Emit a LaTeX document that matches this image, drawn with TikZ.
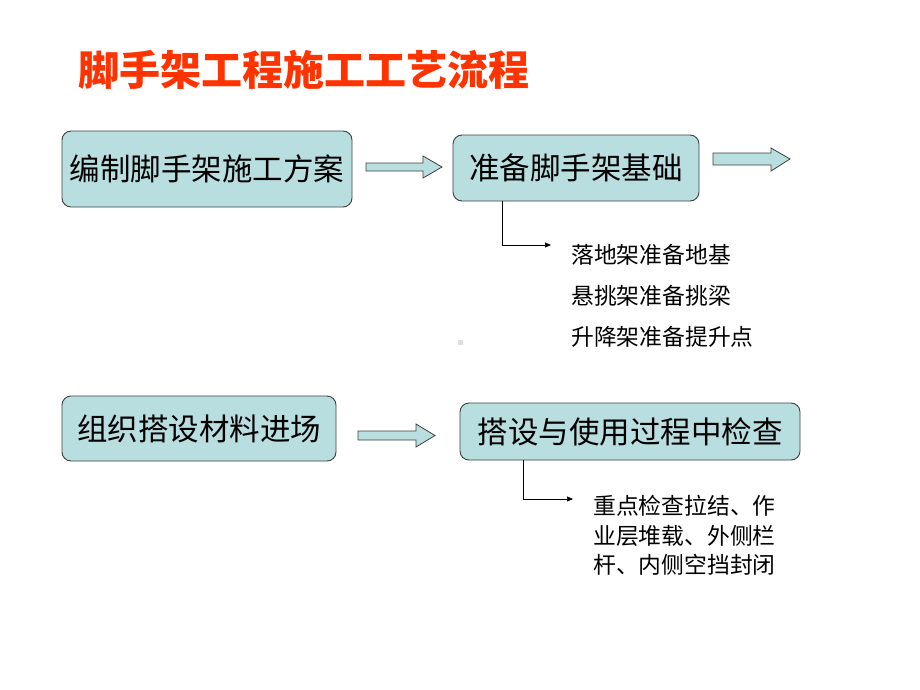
\documentclass[tikz,border=0pt]{standalone}
\usepackage{fontspec}
\setmainfont{Liberation Sans}
\newfontfamily\cjk{Noto Sans CJK SC}
\usetikzlibrary{arrows.meta}
\definecolor{boxfill}{HTML}{B8DEE0}
\definecolor{boxline}{HTML}{404040}
\definecolor{titlered}{HTML}{FF3300}
\begin{document}
\begin{tikzpicture}[x=1pt,y=-1pt,
  stepbox/.style={draw=boxline,line width=0.9pt,fill=boxfill,rounded corners=9pt,inner sep=0pt,font=\cjk\fontsize{30.5}{33}\selectfont},
  blockarrow/.style={draw=boxline,line width=0.8pt,fill=boxfill},
  note/.style={font=\cjk\fontsize{22.8}{29.5}\selectfont,anchor=west,inner sep=0pt,align=left},
  link/.style={line width=0.7pt,-{Triangle[length=6pt,width=5pt]}}]
\useasboundingbox (0,0) rectangle (920,690);
\fill[white] (0,0) rectangle (920,690);
% title
\node[font=\cjk\bfseries\fontsize{41}{44}\selectfont,text=titlered] (title) at (304,70) {脚手架工程施工工艺流程};
% boxes
\node[stepbox,minimum width=290pt,minimum height=76pt] (b1) at (207,169) {编制脚手架施工方案};
\node[stepbox,minimum width=246pt,minimum height=66pt] (b2) at (576,168) {准备脚手架基础};
\node[stepbox,minimum width=274pt,minimum height=65pt] (b3) at (199,428.5) {组织搭设材料进场};
\node[stepbox,minimum width=340pt,minimum height=57pt] (b4) at (630,431.5) {搭设与使用过程中检查};
% block arrows
\draw[blockarrow] (366,163) -- (423,163) -- (423,156) -- (442,167) -- (423,178) -- (423,171) -- (366,171) -- cycle;
\draw[blockarrow] (713,153) -- (771,153) -- (771,148) -- (790,159) -- (771,171) -- (771,165) -- (713,165) -- cycle;
\draw[blockarrow] (358,431) -- (416,431) -- (416,424) -- (435,435.5) -- (416,447) -- (416,440) -- (358,440) -- cycle;
% connectors
\coordinate (c1) at (551,245);
\coordinate (c2) at (573,499);
\draw[link] (b2.south west) ++(50,0) coordinate (s1) |- (c1);
\draw[link] (b4.south west) ++(64,0) coordinate (s2) |- (c2);
% notes
\node[note] (n1) at (571,255) {落地架准备地基};
\node[note] (n2) at (571,296) {悬挑架准备挑梁};
\node[note] (n3) at (571,337) {升降架准备提升点};
\node[note] (n4) at (593,535.5) {重点检查拉结、作\\业层堆载、外侧栏\\杆、内侧空挡封闭};
% small dot
\fill[gray!25] (457.5,339.5) rectangle (462.5,344.5);
\end{tikzpicture}
\end{document}
